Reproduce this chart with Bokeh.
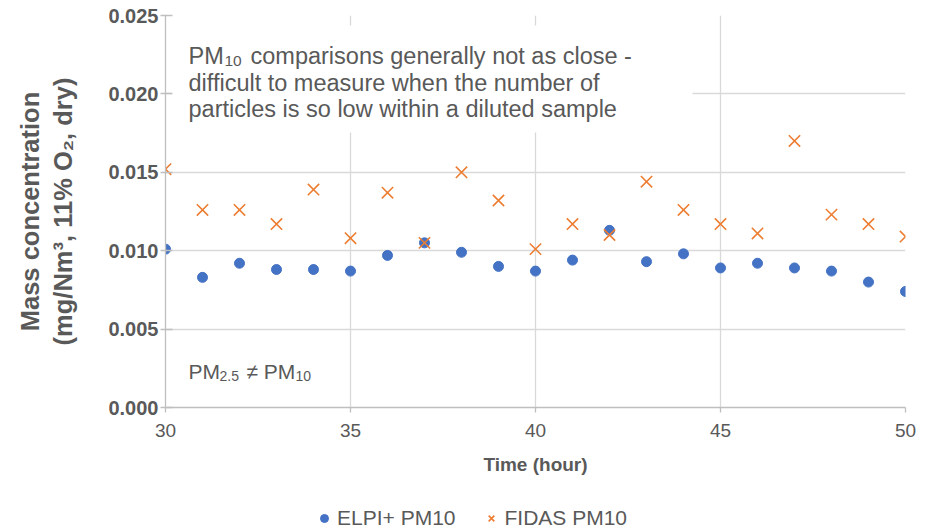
from bokeh.plotting import figure
from bokeh.layouts import column
from bokeh.models import (Range1d, FixedTicker, Label, BoxAnnotation, Legend,
                          LegendItem, NumeralTickFormatter)
from bokeh.embed import file_html
from bokeh.resources import INLINE

# ---- data ----
hours = list(range(30, 51))
elpi_pm10 = [0.0101, 0.0083, 0.0092, 0.0088, 0.0088, 0.0087, 0.0097, 0.0105,
             0.0099, 0.0090, 0.0087, 0.0094, 0.0113, 0.0093, 0.0098, 0.0089,
             0.0092, 0.0089, 0.0087, 0.0080, 0.0074]
fidas_pm10 = [0.0152, 0.0126, 0.0126, 0.0117, 0.0139, 0.0108, 0.0137, 0.0105,
              0.0150, 0.0132, 0.0101, 0.0117, 0.0110, 0.0144, 0.0126, 0.0117,
              0.0111, 0.0170, 0.0123, 0.0117, 0.0109]
x_ticks = [30, 35, 40, 45, 50]
y_ticks = [0.0, 0.005, 0.010, 0.015, 0.020, 0.025]
series_names = ["ELPI+ PM10", "FIDAS PM10"]

FONT = "Liberation Sans"
TXT = "#595959"
GRID = "#d9d9d9"
AXC = "#bfbfbf"
BLUE = "#4472C4"
ORANGE = "#ED7D31"

p = figure(width=926, height=500, x_range=Range1d(30, 50), y_range=Range1d(0, 0.025),
           output_backend="svg", toolbar_location=None,
           min_border_left=165, min_border_right=21, min_border_top=15,
           min_border_bottom=93)
p.outline_line_color = None
p.background_fill_color = "white"
p.border_fill_color = "white"

# grid
p.xgrid.ticker = FixedTicker(ticks=x_ticks)
p.ygrid.ticker = FixedTicker(ticks=y_ticks)
p.xgrid.grid_line_color = GRID
p.ygrid.grid_line_color = GRID
p.xgrid.grid_line_width = 1.3
p.ygrid.grid_line_width = 1.3

# axes
p.xaxis.ticker = FixedTicker(ticks=x_ticks)
p.yaxis.ticker = FixedTicker(ticks=y_ticks)
p.yaxis.formatter = NumeralTickFormatter(format="0.000")
for ax in (p.xaxis[0], p.yaxis[0]):
    ax.axis_line_color = AXC
    ax.axis_line_width = 1.3
    ax.major_tick_line_color = AXC
    ax.major_tick_line_width = 1.3
    ax.minor_tick_line_color = None
    ax.major_label_text_color = TXT
    ax.major_label_text_font = FONT
    ax.axis_label_text_color = TXT
    ax.axis_label_text_font = FONT
    ax.axis_label_text_font_style = "bold"

p.yaxis.major_tick_out = 5
p.yaxis.major_tick_in = 7
p.yaxis.major_label_text_font_size = "20px"
p.yaxis.major_label_text_font_style = "bold"
p.yaxis.major_label_standoff = 2
p.yaxis.axis_label = "Mass concentration\n(mg/Nm³, 11% O₂, dry)"
p.yaxis.axis_label_text_font_size = "25.5px"
p.yaxis.axis_label_standoff = 28

p.xaxis.major_tick_out = 5
p.xaxis.major_tick_in = 0
p.xaxis.major_label_text_font_size = "19px"
p.xaxis.major_label_standoff = 11
p.xaxis.axis_label = "Time (hour)"
p.xaxis.axis_label_text_font_size = "19px"
p.xaxis.axis_label_standoff = 14

# series
r1 = p.scatter(hours, elpi_pm10, marker="circle", size=10,
               fill_color=BLUE, line_color=BLUE)
r2 = p.scatter(hours, fidas_pm10, marker="x", size=16,
               line_color=ORANGE, line_width=1.6)

# annotation box (top left)
px_x = 20 / 740.0
px_y = 0.025 / 392.0
box = BoxAnnotation(left=30 + 7 * px_x, right=30 + 527 * px_x,
                    top=0.025 - 10 * px_y, bottom=0.025 - 117 * px_y,
                    fill_color="white", fill_alpha=1.0, line_color=None)
p.add_layout(box)


def lab(text, x, y, dx, dy, size):
    p.add_layout(Label(x=x, y=y, x_offset=dx, y_offset=dy, text=text,
                       text_font=FONT, text_font_size=size, text_color=TXT,
                       text_baseline="alphabetic", text_align="left"))


lab("PM", 30, 0.025, 23, -40, "23.5px")
lab("10", 30, 0.025, 59, -45, "15.5px")
lab("comparisons generally not as close -", 30, 0.025, 85, -40, "23.5px")
lab("difficult to measure when the number of", 30, 0.025, 23, -67, "23.5px")
lab("particles is so low within a diluted sample", 30, 0.025, 23, -93, "23.5px")

lab("PM", 30, 0.0, 23, 36, "21px")
lab("2.5", 30, 0.0, 54, 32, "14px")
lab("≠ PM", 30, 0.0, 81, 36, "21px")
lab("10", 30, 0.0, 130, 32, "14px")

# legend strip below the chart (series drawn off-view, only the legend shows)
pl = figure(width=926, height=31, x_range=Range1d(0, 1), y_range=Range1d(0, 1),
            output_backend="svg", toolbar_location=None,
            x_axis_type=None, y_axis_type=None,
            min_border_left=0, min_border_right=0, min_border_top=0,
            min_border_bottom=0)
pl.outline_line_color = None
pl.xgrid.visible = False
pl.ygrid.visible = False
l1 = pl.scatter(hours, elpi_pm10, marker="circle", size=8,
                fill_color=BLUE, line_color=BLUE)
l2 = pl.scatter(hours, fidas_pm10, marker="x", size=12,
                line_color=ORANGE, line_width=1.6)
legend = Legend(items=[LegendItem(label=series_names[0], renderers=[l1]),
                       LegendItem(label=series_names[1], renderers=[l2])],
                orientation="horizontal", location=(149, 1),
                glyph_width=20, glyph_height=20, label_height=20,
                label_standoff=3, spacing=26,
                padding=0, margin=0, border_line_color=None,
                background_fill_alpha=0,
                label_text_font=FONT, label_text_font_size="21px",
                label_text_color=TXT)
pl.add_layout(legend, "center")

open("out.html", "w").write(file_html(column(p, pl, spacing=0), INLINE))
